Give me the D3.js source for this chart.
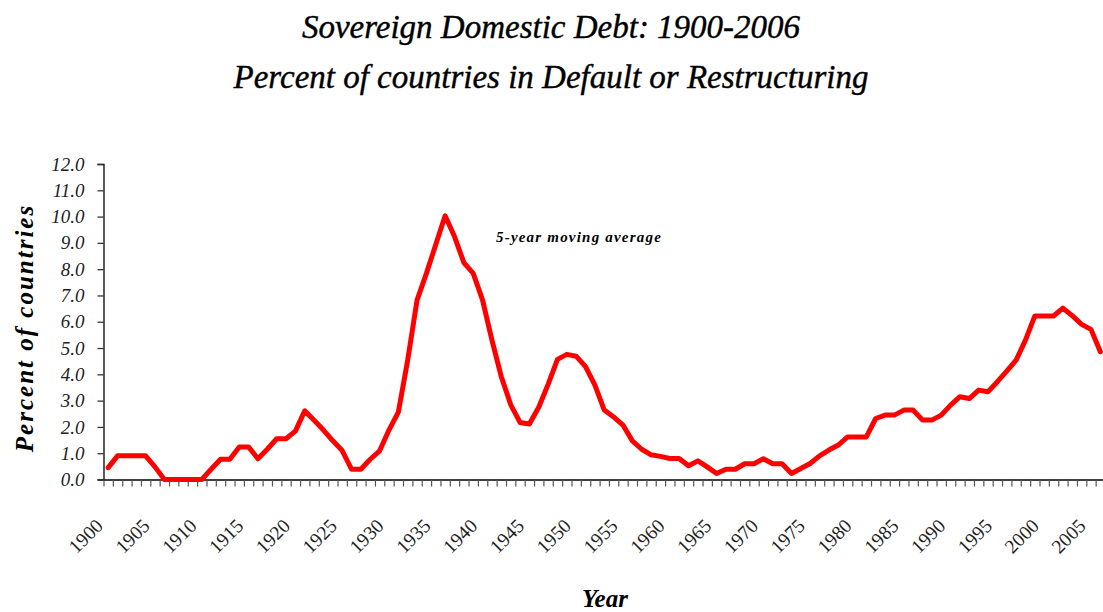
<!DOCTYPE html>
<html>
<head>
<meta charset="utf-8">
<script src="https://cdn.jsdelivr.net/npm/d3@7"></script>
<style>
  html, body { margin: 0; padding: 0; background: #fff; }
  svg { display: block; }
</style>
</head>
<body>
<svg id="chart" width="1103" height="612"></svg>
<script>
// ---- Data ----
const years = d3.range(1900, 2007);
const values = [
  0.45, 0.90, 0.90, 0.90, 0.90, 0.48, 0.00, 0.00, 0.00, 0.00,
  0.00, 0.39, 0.77, 0.77, 1.24, 1.24, 0.79, 1.15, 1.55, 1.55,
  1.84, 2.61, 2.25, 1.88, 1.47, 1.10, 0.39, 0.39, 0.77, 1.09,
  1.88, 2.56, 4.54, 6.82, 7.84, 8.94, 10.03, 9.24, 8.25, 7.84,
  6.82, 5.30, 3.91, 2.85, 2.17, 2.11, 2.75, 3.62, 4.57, 4.76,
  4.69, 4.29, 3.59, 2.64, 2.38, 2.07, 1.47, 1.15, 0.94, 0.88,
  0.80, 0.80, 0.52, 0.71, 0.48, 0.23, 0.39, 0.39, 0.60, 0.60,
  0.79, 0.60, 0.60, 0.23, 0.42, 0.61, 0.90, 1.12, 1.31, 1.62,
  1.62, 1.62, 2.32, 2.45, 2.45, 2.64, 2.64, 2.26, 2.26, 2.45,
  2.83, 3.15, 3.08, 3.40, 3.34, 3.72, 4.12, 4.54, 5.30, 6.22,
  6.22, 6.22, 6.52, 6.23, 5.90, 5.71, 4.86
];
const xTickLabels = d3.range(1900, 2006, 5);
const yTickValues = d3.range(0, 13, 1);
const titleLines = ["Sovereign Domestic Debt: 1900-2006", "Percent of countries in Default or Restructuring"];
const yTitle = "Percent of countries";
const xTitle = "Year";
const annotation = "5-year moving average";

// ---- Layout ----
const svg = d3.select("#chart");
const plotLeft = 103.5, plotBottom = 479.5, plotTop = 164, step = 9.36;
const x = d3.scaleLinear().domain([1900, 2007]).range([plotLeft, plotLeft + 107 * step]);
const y = d3.scaleLinear().domain([0, 12]).range([plotBottom, plotTop]);
const serif = "'Liberation Serif', 'Times New Roman', serif";

// Title
svg.selectAll("text.title").data(titleLines).join("text")
  .attr("class", "title")
  .attr("x", 551).attr("y", (d, i) => 38 + i * 50)
  .attr("text-anchor", "middle")
  .style("font-family", serif).style("font-style", "italic")
  .style("font-size", "33px").style("fill", "#000")
  .style("stroke", "#000").style("stroke-width", "0.4px")
  .text(d => d);

// Y axis
const yAxis = svg.append("g").attr("transform", `translate(${plotLeft},0)`)
  .call(d3.axisLeft(y).tickValues(yTickValues).tickSize(6).tickPadding(13).tickFormat(d3.format(".1f")));
yAxis.select(".domain").attr("stroke", "#000").attr("stroke-width", 1.3);
yAxis.selectAll(".tick line").attr("stroke", "#333").attr("stroke-width", 1.3);
yAxis.selectAll(".tick text")
  .style("font-family", serif).style("font-style", "italic")
  .style("font-size", "19px").style("fill", "#222");

// X axis (category boundaries)
const xAxis = svg.append("g").attr("transform", `translate(0,${plotBottom})`)
  .call(d3.axisBottom(x).tickValues(d3.range(1900, 2008)).tickSize(7).tickSizeOuter(0).tickFormat(""));
xAxis.select(".domain").attr("stroke", "#000").attr("stroke-width", 1.3);
xAxis.selectAll(".tick line").attr("stroke", "#555").attr("stroke-width", 1.2);

// X tick labels rotated
svg.append("g").selectAll("text").data(xTickLabels).join("text")
  .attr("transform", d => `translate(${x(d + 0.5) - 4},${527}) rotate(-45)`)
  .attr("text-anchor", "end")
  .style("font-family", serif).style("font-size", "19.5px").style("fill", "#222")
  .text(d => d);

// Line
const line = d3.line()
  .x((d, i) => x(years[i] + 0.5))
  .y(d => y(d));
svg.append("path").datum(values)
  .attr("d", line)
  .attr("fill", "none").attr("stroke", "#ff0000")
  .attr("stroke-width", 5).attr("stroke-linejoin", "round").attr("stroke-linecap", "round");

// Annotation
svg.append("text").attr("x", 496).attr("y", 242)
  .style("font-family", serif).style("font-style", "italic").style("font-weight", "bold")
  .style("font-size", "15px").style("letter-spacing", "1.2px").style("fill", "#000")
  .text(annotation);

// Axis titles
svg.append("text")
  .attr("transform", "translate(33,328) rotate(-90)")
  .attr("text-anchor", "middle")
  .style("font-family", serif).style("font-style", "italic").style("font-weight", "bold")
  .style("font-size", "25px").style("letter-spacing", "2px").style("fill", "#000")
  .text(yTitle);

svg.append("text").attr("x", 605).attr("y", 607)
  .attr("text-anchor", "middle")
  .style("font-family", serif).style("font-style", "italic").style("font-weight", "bold")
  .style("font-size", "25px").style("fill", "#000")
  .text(xTitle);
</script>
</body>
</html>
